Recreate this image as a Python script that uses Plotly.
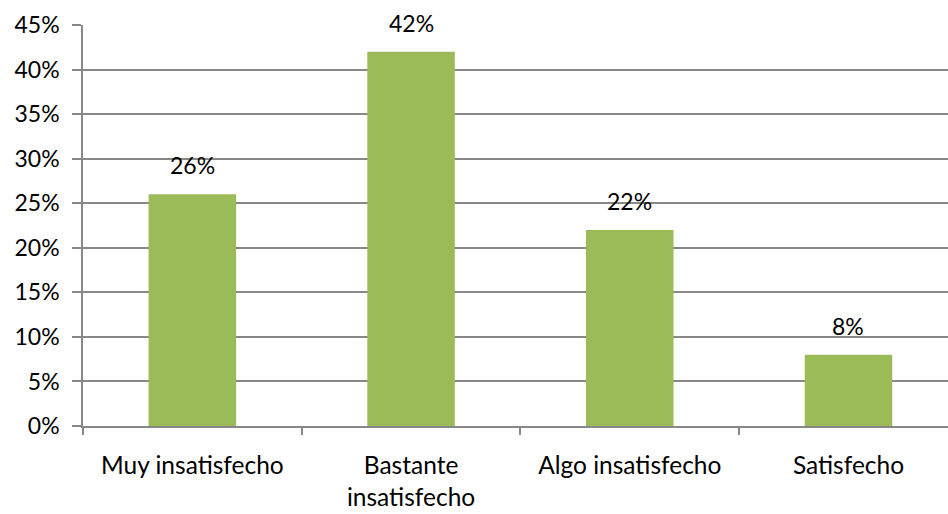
import plotly.graph_objects as go

categories = ["Muy insatisfecho", "Bastante<br>insatisfecho", "Algo insatisfecho", "Satisfecho"]
values = [0.26, 0.42, 0.22, 0.08]
tick_vals = [0, 0.05, 0.10, 0.15, 0.20, 0.25, 0.30, 0.35, 0.40, 0.45]
tick_text = ["0%", "5%", "10%", "15%", "20%", "25%", "30%", "35%", "40%", "45%"]

FONT = "Lato"
FSIZE = 23
XSIZE = 24.5
GRID = "#888888"
BAR = "#9BBB59"

fig = go.Figure()
fig.add_trace(go.Bar(
    x=categories,
    y=values,
    width=0.4,
    marker=dict(color=BAR, line=dict(width=0)),
    hoverinfo="skip",
))

# value labels above each bar
for c, v in zip(categories, values):
    fig.add_annotation(
        x=c, y=v, text=f"{round(v * 100)}%",
        showarrow=False, yanchor="middle", yshift=29,
        font=dict(family=FONT, size=FSIZE, color="#000000"),
    )

fig.update_layout(
    width=948, height=514,
    margin=dict(l=83, r=0, t=25, b=88),
    paper_bgcolor="white", plot_bgcolor="white",
    showlegend=False,
    bargap=0.6,
    font=dict(family=FONT, size=FSIZE, color="#000000"),
)
fig.update_xaxes(
    type="category",
    range=[-0.5, 3.455],
    showgrid=False,
    showline=True, linecolor=GRID, linewidth=1.5,
    ticks="outside", tickson="boundaries", ticklen=7, tickcolor=GRID, tickwidth=1.5,
    ticklabelstandoff=17,
    tickfont=dict(family=FONT, size=XSIZE, color="#000000"),
    fixedrange=True,
)
fig.update_yaxes(
    range=[0, 0.45],
    tickvals=tick_vals, ticktext=tick_text,
    showgrid=True, gridcolor=GRID, gridwidth=1.5,
    showline=True, linecolor=GRID, linewidth=1.5,
    ticks="outside", ticklen=9, tickcolor=GRID, tickwidth=1.5,
    ticklabelstandoff=8,
    zeroline=False,
    tickfont=dict(family=FONT, size=FSIZE, color="#000000"),
    fixedrange=True,
)

fig.write_html("out.html", config={"displayModeBar": False})
